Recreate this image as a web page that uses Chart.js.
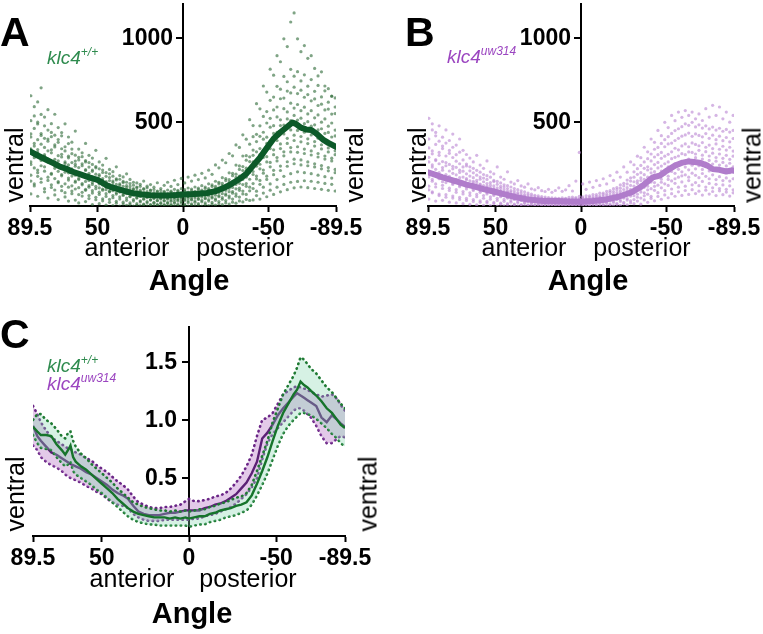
<!DOCTYPE html>
<html><head><meta charset="utf-8">
<script src="https://cdn.jsdelivr.net/npm/chart.js"></script>
<style>
body{margin:0;background:#fff;}
#wrap{position:relative;width:763px;height:634px;overflow:hidden;font-family:"Liberation Sans",Arial,sans-serif;}
canvas{position:absolute;}
.t{position:absolute;white-space:nowrap;line-height:1;}
</style></head><body><div id="wrap">
<canvas id="cA" width="381" height="300" style="left:0;top:0;width:381px;height:300px"></canvas>
<canvas id="cB" width="363" height="300" style="left:400px;top:0;width:363px;height:300px"></canvas>
<canvas id="cC" width="400" height="324" style="left:0;top:310px;width:400px;height:324px"></canvas>
</div>
<script>
// ---------- tick labels ----------
const xTickVals = [89.5, 50, 0, -50, -89.5];
const xTickLabels = ['89.5', '50', '0', '-50', '-89.5'];
const yTicksAB = [500, 1000];
const yLabelsAB = ['500', '1000'];
const yTicksC = [0.5, 1.0, 1.5];
const yLabelsC = ['0.5', '1.0', '1.5'];

// ---------- panel A / B : scatter columns (angle -> values) ----------
const cloudAngles = [89,87,85,83,81,79,77,75,73,71,69,67,65,63,61,59,57,55,53,51,49,47,45,43,41,39,37,35,33,31,29,27,25,23,21,19,17,15,13,11,9,7,5,3,1,
 -1,-3,-5,-7,-9,-11,-13,-15,-17,-19,-21,-23,-25,-27,-29,-31,-33,-35,-37,-39,-41,-43,-45,-47,-49,-51,-53,-55,-57,-59,-61,-63,-65,-67,-69,-71,-73,-75,-77,-79,-81,-83,-85,-87,-89];

const cloudA = [
[72,148,183,247,262,339,410,428,507,655],[119,131,226,287,301,356,372,461,535,590],[58,176,198,214,318,335,394,487,498,618],
[141,162,239,271,283,367,419,430,544,702],[84,103,207,233,296,305,348,402,476,528],[47,152,171,261,279,328,385,398,451,572],
[110,126,188,194,257,316,334,412,437,489],[66,95,163,224,238,277,351,363,421,545],[38,138,145,206,249,268,299,378,395,466],
[91,117,179,187,229,291,307,340,417,436],[54,79,132,201,218,253,262,327,352,488],[29,112,154,166,197,244,286,296,371,410],
[73,89,120,178,209,221,258,311,338,379],[35,101,141,148,183,236,248,267,302,445],[18,68,109,157,164,199,228,274,289,338],
[59,81,126,133,187,191,239,251,293,316],[26,93,99,146,170,211,216,262,270,372],[44,62,112,121,152,183,194,231,258,301],
[9,77,91,128,139,173,206,214,247,285],[37,52,103,117,158,161,189,227,234,331],[14,69,82,108,131,146,178,186,221,262],
[31,43,94,101,125,152,163,199,214,243],[6,57,73,97,112,138,145,176,198,283],[22,39,84,88,118,127,151,169,191,217],
[3,49,62,91,99,121,139,148,177,204],[17,28,71,78,104,113,128,155,162,233],[0,41,55,83,88,107,124,131,159,181],
[12,23,63,67,94,98,117,139,146,173],[4,34,47,74,79,96,109,121,141,191],[9,18,55,58,82,89,101,116,133,158],
[0,29,38,66,70,84,97,103,124,141],[6,14,47,50,73,77,91,108,113,137],[2,24,31,57,62,75,86,94,117,129],
[7,11,40,43,65,68,81,99,104,148],[0,19,26,49,55,67,77,85,108,118],[5,9,35,37,58,61,73,91,95,127],
[1,17,22,44,49,60,69,79,98,112],[6,8,31,34,53,56,66,84,89,138],[0,15,20,41,46,57,63,75,92,104],
[4,9,29,33,50,55,62,81,87,123],[1,16,21,40,47,54,65,74,95,141],[5,8,28,35,48,57,60,83,88,116],
[0,17,24,39,50,53,68,76,99,153],[3,11,30,37,45,59,64,85,93,127],[1,19,27,42,52,56,72,78,103,164],
[4,12,33,38,49,63,66,88,97,137],[0,20,29,45,55,60,75,82,107,172],[6,13,36,41,53,67,70,92,101,148],
[2,22,31,49,59,65,79,87,113,183],[7,15,39,44,58,72,75,97,106,157],[0,25,34,53,64,70,85,94,121,194],
[9,18,43,48,63,79,83,104,113,167],[3,29,38,58,70,77,94,104,132,213],[11,21,48,54,70,88,93,116,125,188],
[5,34,43,64,78,87,106,117,147,244],[14,26,55,62,80,100,106,131,141,227],[8,40,50,73,90,99,121,134,168,273],
[18,32,64,72,93,116,123,151,163,257],[12,48,59,85,105,116,142,157,197,312],[23,41,76,86,110,138,147,180,194,298],
[17,58,72,102,128,140,170,189,243,363],[30,53,93,106,135,167,178,217,238,348],[24,72,89,127,158,174,211,234,297,423],
[39,69,117,133,171,210,225,272,299,397],[33,90,112,159,199,219,264,292,367,513],
[36,104,133,187,205,262,301,332,412,478],[62,88,161,178,236,271,322,383,426,608],[41,129,152,221,248,306,341,414,476,577],
[77,112,195,214,288,331,397,438,532,713],[55,158,177,262,293,372,409,493,561,677],[94,131,233,259,341,386,468,521,628,813],
[69,186,212,305,334,431,477,571,647,777],[112,157,268,288,389,437,529,588,711,893],[84,211,237,341,369,478,512,637,694,857],
[128,176,298,322,428,481,578,641,770,993],[97,236,263,372,402,517,559,683,738,947],[141,192,321,347,452,508,611,672,812,1093],
[108,251,278,389,421,538,582,706,771,1147],[146,203,319,352,449,511,603,668,798,993],[113,244,274,381,413,522,566,688,743,917],
[150,198,312,338,438,489,587,646,779,953],[109,239,262,371,399,501,547,662,712,877],[147,192,303,327,422,474,566,625,751,893],
[104,232,251,356,383,482,524,636,681,817],[141,183,291,312,403,452,541,597,716,773],[99,221,240,339,364,459,498,605,648,797],
[134,174,279,297,384,431,517,571,684,713],[93,209,228,321,345,437,474,576,617,697],[129,166,268,284,366,410,493,546,652,653],
[89,198,217,305,328,416,451,549,588,642]
];

const cloudB = [
[41,96,118,173,205,262,289,345,398,521],[78,84,147,158,231,244,310,327,452,488],[29,113,131,192,218,270,276,366,417,437],
[62,71,162,181,199,251,301,318,385,476],[34,104,123,144,213,228,264,341,356,409],[52,67,139,166,187,239,258,297,374,452],
[23,92,106,151,176,208,247,313,330,389],[47,59,128,135,194,221,236,288,349,427],[18,81,97,143,159,185,230,266,305,362],
[39,52,115,122,168,199,213,251,320,398],[14,72,86,129,141,172,207,232,274,331],[33,45,101,113,156,163,191,238,249,306],
[10,63,78,118,129,150,178,209,233,285],[27,38,92,99,137,147,168,197,224,262],[7,55,69,104,116,139,152,183,212,301],
[22,31,81,91,125,130,159,172,201,243],[4,46,62,95,103,121,144,166,187,224],[18,27,72,80,109,118,133,158,180,268],
[2,40,54,84,92,110,124,139,171,203],[14,21,63,70,99,104,119,145,152,191],[0,33,46,74,81,95,108,129,146,232],
[11,17,55,61,87,90,105,117,137,172],[1,28,39,64,71,82,97,113,126,159],[8,14,47,53,74,79,88,104,121,203],
[0,23,33,55,61,71,83,92,113,142],[6,11,39,45,62,67,76,89,104,131],[0,19,27,46,52,59,70,79,97,151],
[4,9,33,37,53,56,64,77,90,119],[0,16,22,38,44,49,59,68,84,112],[3,7,27,31,45,47,55,65,77,131],
[0,13,18,31,37,41,49,59,70,102],[2,6,23,26,38,40,46,55,64,96],[0,11,15,27,31,35,43,51,60,109],
[1,5,20,22,33,36,41,47,56,91],[0,9,13,23,28,31,38,44,53,86],[1,4,17,20,29,32,36,42,50,99],
[0,8,12,21,26,29,35,41,48,81],[2,4,15,18,27,30,34,40,47,92],[0,8,11,20,25,29,33,39,46,108],
[1,5,14,19,26,28,34,38,49,87],[0,7,12,21,24,30,33,41,45,96],[2,4,15,18,27,31,35,40,51,121],
[0,8,13,22,26,29,37,42,53,89],[1,6,16,19,28,33,36,44,50,148],[0,9,14,23,27,31,39,43,57,318],
[2,5,17,21,30,34,38,47,55,131],[0,10,15,25,29,35,42,46,61,99],[1,6,19,23,33,36,43,51,60,142],
[0,12,17,28,32,39,46,53,67,111],[3,8,22,26,37,41,48,58,68,151],[0,14,20,32,37,45,52,61,76,122],
[4,10,26,30,42,47,56,68,77,162],[1,17,23,37,43,52,60,72,87,131],[6,12,31,36,49,55,66,81,92,181],
[2,21,28,44,51,61,72,86,103,152],[9,16,38,43,59,66,80,97,110,201],[4,27,35,53,62,74,88,106,125,172],
[13,22,47,53,72,80,98,119,135,232],[7,35,44,66,77,91,109,131,154,201],[18,30,59,67,90,99,122,148,167,262],
[14,38,61,79,101,118,144,171,203,245],[29,52,70,95,108,135,149,188,222,296],[11,47,83,99,127,151,167,198,241,287],
[36,61,78,111,143,159,186,224,262,349],[22,70,96,118,137,171,214,233,281,322],[45,58,103,142,161,197,221,268,309,398],
[31,93,117,139,185,204,246,291,337,378],[57,79,124,168,183,226,259,305,348,449],[40,108,141,159,208,237,283,318,372,418],
[66,91,132,189,214,251,296,352,394,497],[49,122,158,177,233,262,307,369,412,466],[73,101,149,205,229,281,322,374,431,538],
[58,135,162,194,251,289,343,389,448,507],[84,112,171,218,246,297,334,402,459,558],[63,143,179,203,262,311,357,415,471,527],
[92,118,185,231,259,305,369,422,488,567],[69,151,171,215,278,321,352,433,479,538],[97,126,195,242,266,318,375,414,497,558],
[74,139,182,221,287,309,366,428,470,518],[88,121,168,239,262,331,358,419,482,547],[65,146,193,217,279,302,377,411,463,508],
[94,113,176,234,255,323,349,430,476,578],[71,134,162,208,271,297,362,402,458,528],[86,108,185,227,249,314,341,421,469,598],
[62,129,157,213,266,288,369,394,451,538],[90,104,174,221,243,309,337,415,462,588],[67,125,151,204,259,283,355,388,444,518],
[83,99,167,216,238,301,332,407,455,558],[59,120,148,198,254,277,349,381,439,498],[78,96,162,211,232,296,326,401,449,538]
];

// mean traces A / B
const meanAnglesA = [89.5,85,80,75,72,68,65,60,55,50,45,42,38,34,29,24,19,14,9,4,0,-4,-9,-14,-19,-24,-29,-33,-37,-41,-45,-49,-53,-57,-61,-64,-66,-69,-72,-75,-78,-82,-85,-89.5];
const meanA = [325,300,275,250,234,221,205,188,170,155,125,112,100,88,75,68,64,63,63,65,68,70,73,77,88,108,135,160,191,240,287,345,400,438,471,496,488,465,455,452,430,394,375,351];
const meanAnglesB = [89.5,85,81,76,71,67,62,57,50,44,38,32,28,22,14,7,0,-7,-15,-22,-30,-36,-42,-46,-50,-55,-59.5,-63,-66,-70,-74,-77,-81,-85,-88,-89.5];
const meanB = [200,185,170,155,140,127,115,100,83,68,52,40,35,30,29,27,25,30,39,55,83,120,170,180,209,240,258,265,262,255,240,219,215,205,212,209];

// ---------- panel C ----------
const cAngles = [89.5,87,85,82,79,76,73,71,69,68,66.5,65,62,59,56,53,50,47,44,41,38,35,32,29,26,23,20,17,14,11,8,5,2,0,-3,-6,-9,-12,-15,-18,-21,-24,-27,-30,-33,-36,-39,-42,-45,-48,-51,-54,-57,-60,-62,-64,-66,-68,-70,-73,-76,-79,-82,-85,-87,-89.5];
const greenMean = [0.94,0.90,0.87,0.87,0.86,0.79,0.74,0.70,0.75,0.78, 0.68,0.64,0.60,0.57,0.53,0.49,0.45,0.41,0.37,0.32, 0.28,0.24,0.21,0.19,0.18,0.17,0.16,0.16,0.16,0.15, 0.16,0.15,0.16,0.15,0.16,0.17,0.17,0.19,0.20,0.22, 0.23,0.24,0.26,0.27,0.29,0.35,0.45,0.56,0.68,0.82, 0.95,1.06,1.14,1.22,1.26,1.33,1.30,1.28,1.25,1.21, 1.16,1.10,1.06,1.00,0.96,0.93];
const greenUpper = [1.00,1.05,1.05,1.00,0.97,0.92,0.86,0.84,0.90,0.90, 0.82,0.77,0.71,0.67,0.62,0.58,0.54,0.50,0.46,0.41, 0.37,0.33,0.29,0.27,0.25,0.24,0.23,0.22,0.22,0.21, 0.22,0.21,0.22,0.21,0.22,0.23,0.23,0.25,0.26,0.28, 0.29,0.31,0.33,0.34,0.37,0.44,0.56,0.69,0.82,0.98, 1.10,1.22,1.30,1.38,1.45,1.54,1.52,1.48,1.44,1.40, 1.34,1.28,1.24,1.18,1.14,1.10];
const greenLower = [0.87,0.80,0.76,0.75,0.74,0.68,0.63,0.60,0.62,0.64, 0.56,0.53,0.50,0.47,0.44,0.40,0.37,0.33,0.29,0.25, 0.21,0.17,0.14,0.12,0.11,0.10,0.10,0.09,0.09,0.09, 0.09,0.09,0.09,0.08,0.09,0.10,0.10,0.12,0.13,0.14, 0.16,0.17,0.18,0.20,0.22,0.27,0.35,0.44,0.54,0.66, 0.78,0.88,0.95,1.00,1.03,1.06,1.06,1.05,1.04,1.01, 0.97,0.93,0.88,0.84,0.80,0.77];
const purpleMean = [0.95,0.86,0.82,0.77,0.72,0.70,0.67,0.65,0.63,0.62, 0.61,0.60,0.58,0.55,0.53,0.50,0.47,0.44,0.40,0.37, 0.35,0.32,0.26,0.21,0.19,0.18,0.18,0.18,0.19,0.20, 0.20,0.21,0.22,0.22,0.22,0.22,0.24,0.25,0.27,0.28, 0.30,0.33,0.36,0.41,0.46,0.54,0.64,0.84,0.89,0.96, 1.04,1.10,1.15,1.20,1.23,1.21,1.19,1.17,1.15,1.12, 1.02,0.98,1.04,1.00,0.97,0.94];
const purpleUpper = [1.12,1.05,0.98,0.91,0.85,0.82,0.79,0.77,0.75,0.75, 0.73,0.72,0.70,0.67,0.65,0.61,0.58,0.55,0.51,0.47, 0.44,0.40,0.34,0.29,0.27,0.25,0.24,0.24,0.25,0.25, 0.26,0.27,0.30,0.32,0.30,0.30,0.31,0.32,0.34,0.35, 0.37,0.41,0.46,0.52,0.60,0.70,0.86,1.00,1.02,1.06, 1.14,1.22,1.25,1.28,1.29,1.28,1.27,1.26,1.24,1.22, 1.20,1.21,1.22,1.18,1.13,1.08];
const purpleLower = [0.78,0.74,0.68,0.64,0.61,0.59,0.56,0.53,0.51,0.50, 0.49,0.48,0.46,0.43,0.41,0.38,0.36,0.32,0.29,0.27, 0.26,0.24,0.19,0.16,0.14,0.13,0.13,0.13,0.14,0.14, 0.14,0.14,0.14,0.14,0.15,0.15,0.17,0.18,0.19,0.21, 0.23,0.25,0.28,0.32,0.36,0.42,0.50,0.66,0.80,0.88, 0.93,0.98,1.03,1.08,1.10,1.10,1.08,1.05,1.02,0.95, 0.86,0.80,0.80,0.84,0.86,0.85];

// ---------- helpers ----------
const FONT = '"Liberation Sans", Arial, sans-serif';
function cloudPoints(angles, cols) { const p = []; angles.forEach((a, i) => cols[i].forEach(v => p.push({x: a, y: v}))); return p; }
function linePoints(angles, vals) { return angles.map((a, i) => ({x: a, y: vals[i]})); }

// y ticks + labels drawn on the centre axis (x = 0) through the chart's own scales
const centerTicks = {
  id: 'centerTicks',
  afterDraw(chart, args, o) {
    const ctx = chart.ctx, xs = chart.scales.x, ys = chart.scales.y;
    const x0 = xs.getPixelForValue(0);
    ctx.save();
    ctx.strokeStyle = '#000'; ctx.fillStyle = '#000'; ctx.lineWidth = 2;
    ctx.font = 'bold 23px ' + FONT; ctx.textAlign = 'right'; ctx.textBaseline = 'middle';
    o.values.forEach((v, i) => {
      const y = Math.round(ys.getPixelForValue(v));
      ctx.beginPath(); ctx.moveTo(x0 - 1, y); ctx.lineTo(x0 - 7, y); ctx.stroke();
      ctx.fillText(o.labels[i], x0 - 7 - o.pad, y + 1);
    });
    ctx.restore();
  }
};

function axes(yMax) {
  const tickFont = {family: FONT, weight: 'bold', size: 23};
  return {
    x: {type: 'linear', min: -89.5, max: 89.5, reverse: true, z: 1,
      afterBuildTicks: s => { s.ticks = xTickVals.map(v => ({value: v})); },
      afterFit: s => { s.height = 40; s.paddingLeft = 0; s.paddingRight = 0; s.paddingTop = 0; s.paddingBottom = 0; },
      ticks: {autoSkip: false, maxRotation: 0, minRotation: 0, padding: 3, color: '#000', font: tickFont, callback: (v, i) => xTickLabels[i]},
      grid: {drawOnChartArea: false, drawTicks: true, tickLength: 6, tickWidth: 2, tickColor: '#000'},
      border: {display: true, color: '#000', width: 2}},
    y: {type: 'linear', min: 0, max: yMax, position: {x: 0}, z: 1,
      afterFit: s => { s.paddingTop = 0; s.paddingBottom = 0; s.paddingLeft = 0; s.paddingRight = 0; },
      ticks: {display: false},
      grid: {display: false, drawTicks: false},
      border: {display: true, color: '#000', width: 2}}
  };
}
const baseOpts = (pad, sc, ct) => ({
  responsive: false, animation: false, events: [],
  layout: {padding: pad},
  plugins: {legend: {display: false}, tooltip: {enabled: false}, centerTicks: ct},
  scales: sc
});

// ---------- Panel A ----------
new Chart(document.getElementById('cA'), {
  type: 'line',
  data: {datasets: [
    {data: linePoints(meanAnglesA, meanA), borderColor: '#0c5a29', borderWidth: 6, pointRadius: 0, fill: false, tension: 0, borderJoinStyle: 'round', borderCapStyle: 'round'},
    {data: cloudPoints(cloudAngles, cloudA), showLine: false, pointRadius: 1.6, pointBorderWidth: 0, pointBackgroundColor: 'rgba(48,108,58,0.62)'}
  ]},
  options: baseOpts({left: 30, right: 45, top: 0, bottom: 54}, axes(1200), {values: yTicksAB, labels: yLabelsAB, pad: 3}),
  plugins: [centerTicks]
});

// ---------- Panel B ----------
new Chart(document.getElementById('cB'), {
  type: 'line',
  data: {datasets: [
    {data: linePoints(meanAnglesB, meanB), borderColor: '#b07ccb', borderWidth: 6, pointRadius: 0, fill: false, tension: 0, borderJoinStyle: 'round', borderCapStyle: 'round'},
    {data: cloudPoints(cloudAngles, cloudB), showLine: false, pointRadius: 1.6, pointBorderWidth: 0, pointBackgroundColor: 'rgba(190,142,214,0.65)'}
  ]},
  options: baseOpts({left: 28, right: 29, top: 0, bottom: 54}, axes(1200), {values: yTicksAB, labels: yLabelsAB, pad: 3}),
  plugins: [centerTicks]
});

// ---------- Panel C ----------
const dotted = {borderWidth: 2.6, borderDash: [0.5, 4.5], borderCapStyle: 'round', pointRadius: 0, tension: 0};
new Chart(document.getElementById('cC'), {
  type: 'line',
  data: {datasets: [
    {data: linePoints(cAngles, greenMean), borderColor: '#16742b', borderWidth: 2.4, pointRadius: 0, fill: false, tension: 0},
    Object.assign({data: linePoints(cAngles, greenUpper), borderColor: '#1f7a33', fill: '+1', backgroundColor: 'rgba(130,212,172,0.33)'}, dotted),
    Object.assign({data: linePoints(cAngles, greenLower), borderColor: '#1f7a33', fill: false}, dotted),
    {data: linePoints(cAngles, purpleMean), borderColor: '#5b2075', borderWidth: 2.4, pointRadius: 0, fill: false, tension: 0},
    Object.assign({data: linePoints(cAngles, purpleUpper), borderColor: '#6a2586', fill: '+1', backgroundColor: 'rgba(185,120,200,0.4)'}, dotted),
    Object.assign({data: linePoints(cAngles, purpleLower), borderColor: '#6a2586', fill: false}, dotted)
  ]},
  options: baseOpts({left: 33, right: 55, top: 17, bottom: 58}, axes(1.8), {values: yTicksC, labels: yLabelsC, pad: 5}),
  plugins: [centerTicks]
});

// ---------- text ----------
const wrap = document.getElementById('wrap');
function label(html, x, base, size, o) {
  o = o || {};
  const d = document.createElement('div');
  d.className = 't';
  d.innerHTML = html;
  d.style.fontSize = size + 'px';
  d.style.fontWeight = o.bold ? 'bold' : 'normal';
  d.style.fontStyle = o.italic ? 'italic' : 'normal';
  d.style.color = o.color || '#000';
  d.style.left = x + 'px';
  d.style.top = (base - 0.8465 * size) + 'px';
  if (o.center) d.style.transform = 'translateX(-50%)';
  wrap.appendChild(d);
}
function vlabel(text, cx, cy, size) {
  const d = document.createElement('div');
  d.className = 't';
  d.textContent = text;
  d.style.fontSize = size + 'px';
  d.style.left = cx + 'px';
  d.style.top = cy + 'px';
  d.style.transform = 'translate(-50%,-50%) rotate(-90deg)';
  wrap.appendChild(d);
}
const sup = s => '<span style="font-size:12px;position:relative;top:-8px">' + s + '</span>';
const G = '#2e8b4e', P = '#9b45c0';

// A
label('A', 0, 47, 41, {bold: true});
label('klc4' + sup('+/+'), 47, 64, 19, {italic: true, color: G});
label('anterior', 127, 256, 25, {center: true});
label('posterior', 245, 256, 25, {center: true});
label('Angle', 189, 291, 29, {bold: true, center: true});
vlabel('ventral', 14, 165, 25);
vlabel('ventral', 354, 165, 25);
// B
label('B', 405, 47, 41, {bold: true});
label('klc4' + sup('uw314'), 447, 63, 19, {italic: true, color: P});
label('anterior', 524, 256, 25, {center: true});
label('posterior', 642, 256, 25, {center: true});
label('Angle', 588, 291, 29, {bold: true, center: true});
vlabel('ventral', 417, 165, 25);
vlabel('ventral', 752, 165, 25);
// C
label('C', 0, 349, 41, {bold: true});
label('klc4' + sup('+/+'), 47, 372, 19, {italic: true, color: G});
label('klc4' + sup('uw314'), 47, 390, 19, {italic: true, color: P});
label('anterior', 132, 587, 25, {center: true});
label('posterior', 248, 587, 25, {center: true});
label('Angle', 192, 624, 29, {bold: true, center: true});
vlabel('ventral', 15, 494, 25);
vlabel('ventral', 368, 494, 25);
</script>
</body></html>
